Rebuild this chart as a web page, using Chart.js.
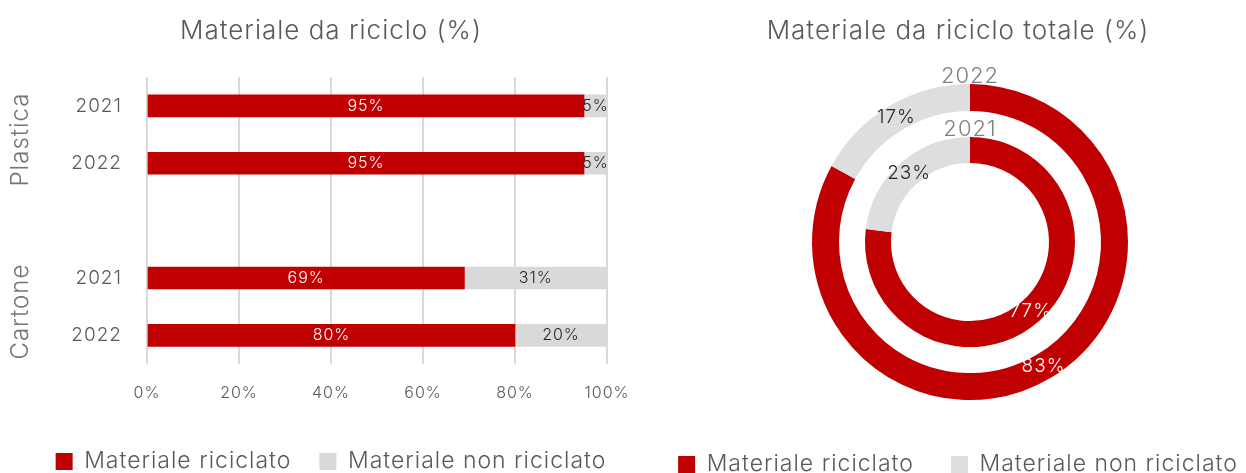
<!DOCTYPE html>
<html><head><meta charset="utf-8">
<script src="https://cdn.jsdelivr.net/npm/chart.js@4/dist/chart.umd.min.js"></script>
<style>
html,body{margin:0;padding:0;background:#fff;width:1246px;height:473px;overflow:hidden}
#left{position:absolute;left:0;top:0;width:640px;height:473px}
#right{position:absolute;left:660px;top:0;width:586px;height:473px}
</style></head><body>
<div id="left"><canvas id="c1"></canvas></div>
<div id="right"><canvas id="c2"></canvas></div>
<script>
// ---- data ----
const barCategories = ['2021', '2022', '', '2021', '2022'];
const barGroups = ['Plastica', 'Plastica', null, 'Cartone', 'Cartone'];
const recycledBar = [95, 95, null, 69, 80];
const nonRecycledBar = [5, 5, null, 31, 20];
const xTickValues = [0, 20, 40, 60, 80, 100];
const seriesNames = ['Materiale riciclato', 'Materiale non riciclato'];
const ringYears = ['2022', '2021'];          // outer, inner
const recycledRing = [83, 77];
const nonRecycledRing = [17, 23];

const RED = '#C00000', GREY = '#D9D9D9', GREY2 = '#DEDEDE';
const TXT = '#595959';
const FAM = 'Inter, "Open Sans", sans-serif';

Chart.defaults.font.family = FAM;
Chart.defaults.font.weight = 300;
Chart.defaults.color = TXT;
Chart.defaults.animation = false;

const spacing = {
  id: 'spacing',
  beforeUpdate(chart) { chart.ctx.letterSpacing = '1px'; },
  beforeLayout(chart) { chart.ctx.letterSpacing = '1px'; },
  beforeDraw(chart) { chart.ctx.letterSpacing = '1px'; }
};

const barLabels = {
  id: 'barLabels',
  afterDatasetsDraw(chart) {
    const ctx = chart.ctx; ctx.save();
    ctx.font = '300 16px ' + FAM; ctx.textAlign = 'center'; ctx.textBaseline = 'middle';
    chart.data.datasets.forEach((ds, di) => {
      chart.getDatasetMeta(di).data.forEach((el, i) => {
        const v = ds.data[i]; if (v == null) return;
        ctx.fillStyle = di === 0 ? '#FFFFFF' : '#262626';
        ctx.fillText(v + '%', (el.x + el.base) / 2, el.y);
      });
    });
    ctx.restore();
  },
  afterDraw(chart) {
    const ctx = chart.ctx, ys = chart.scales.y; ctx.save();
    ctx.font = '300 24px ' + FAM; ctx.fillStyle = '#767676';
    ctx.textAlign = 'center'; ctx.textBaseline = 'middle';
    const names = [...new Set(barGroups.filter(g => g))];
    names.forEach(n => {
      const idx = barGroups.map((g, i) => g === n ? i : -1).filter(i => i >= 0);
      const c = (ys.getPixelForValue(idx[0]) + ys.getPixelForValue(idx[idx.length - 1])) / 2;
      ctx.save(); ctx.translate(21, c + 5); ctx.rotate(-Math.PI / 2); ctx.fillText(n, 0, 0); ctx.restore();
    });
    ctx.restore();
  }
};

new Chart(document.getElementById('c1'), {
  type: 'bar',
  data: {
    labels: barCategories,
    datasets: [
      { label: seriesNames[0], data: recycledBar, backgroundColor: RED, barThickness: 22 },
      { label: seriesNames[1], data: nonRecycledBar, backgroundColor: GREY, barThickness: 22 }
    ]
  },
  options: {
    indexAxis: 'y', responsive: true, maintainAspectRatio: false,
    layout: { padding: { left: 2, right: -20, top: 0, bottom: -10 } },
    scales: {
      x: {
        stacked: true, min: 0, max: 100,
        afterBuildTicks(s) { s.ticks = xTickValues.map(v => ({ value: v })); },
        afterFit(s) { s.height = 58; s.paddingLeft = 0; s.paddingRight = 33; },
        grid: { color: '#D9D9D9', lineWidth: 2, drawTicks: false },
        border: { display: false },
        ticks: { padding: 20, font: { size: 16 }, color: TXT, callback: v => v + '%' }
      },
      y: {
        stacked: true,
        afterFit(s) { s.width = 145; },
        grid: { display: false, drawTicks: false }, border: { display: false },
        ticks: { padding: 25, font: { size: 19 }, color: TXT }
      }
    },
    plugins: {
      title: { display: true, text: 'Materiale da riciclo (%)', color: TXT,
               font: { size: 26, weight: 300 }, padding: { top: 16, bottom: 30 } },
      legend: { position: 'bottom',
        labels: { boxWidth: 17, boxHeight: 17, padding: 28, font: { size: 23 }, color: TXT } },
      tooltip: { enabled: false }
    }
  },
  plugins: [spacing, barLabels]
});

const ringLabels = {
  id: 'ringLabels',
  afterLayout(chart) {
    const a = chart.chartArea; a.left += 17; a.right += 17;
  },
  afterDatasetsDraw(chart) {
    const ctx = chart.ctx; ctx.save();
    ctx.textAlign = 'center'; ctx.textBaseline = 'middle';
    chart.data.datasets.forEach((ds, di) => {
      if (ds.spacer) return;
      const meta = chart.getDatasetMeta(di);
      ctx.font = '300 19px ' + FAM;
      meta.data.forEach((el, i) => {
        const p = el.getCenterPoint();
        ctx.fillStyle = i === 0 ? '#FFFFFF' : '#262626';
        ctx.fillText(ds.data[i] + '%', p.x, p.y);
      });
      const el0 = meta.data[0];
      ctx.font = '300 22px ' + FAM; ctx.fillStyle = '#7F7F7F'; ctx.textBaseline = 'alphabetic';
      ctx.fillText(ds.label, el0.x, el0.y - el0.outerRadius - 1);
      ctx.textBaseline = 'middle';
    });
    ctx.restore();
  }
};

new Chart(document.getElementById('c2'), {
  type: 'doughnut',
  data: {
    labels: seriesNames,
    datasets: [
      { label: ringYears[0], data: [recycledRing[0], nonRecycledRing[0]], backgroundColor: [RED, GREY2], borderWidth: 0, weight: 27 },
      { label: '', spacer: true, data: [1], backgroundColor: 'rgba(0,0,0,0)', borderWidth: 0, weight: 26 },
      { label: ringYears[1], data: [recycledRing[1], nonRecycledRing[1]], backgroundColor: [RED, GREY2], borderWidth: 0, weight: 26 }
    ]
  },
  options: {
    responsive: true, maintainAspectRatio: false,
    radius: 158, cutout: '50%',
    layout: { padding: { left: -45, right: -55, bottom: -13 } },
    plugins: {
      title: { display: true, text: 'Materiale da riciclo totale (%)', color: TXT,
               font: { size: 26, weight: 300 }, padding: { top: 16, bottom: 21 } },
      legend: { position: 'bottom',
        labels: { boxWidth: 17, boxHeight: 17, padding: 37, font: { size: 23 }, color: TXT } },
      tooltip: { enabled: false }
    }
  },
  plugins: [spacing, ringLabels]
});
</script>
</body></html>
